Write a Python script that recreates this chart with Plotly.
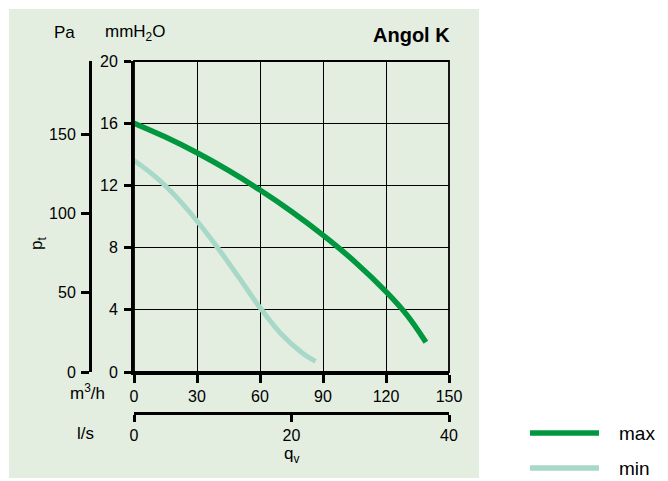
import plotly.graph_objects as go

# ---- data (m3/h vs mmH2O) ----
max_q = [0, 15, 30, 45, 60, 75, 90, 105, 120, 130, 139]
max_p = [16.0, 15.11, 14.10, 12.96, 11.70, 10.32, 8.80, 7.11, 5.17, 3.66, 1.92]
min_q = [0, 10, 20, 30, 40, 50, 60, 70, 80, 86.5]
min_p = [13.6, 12.58, 11.28, 9.71, 7.96, 6.07, 4.14, 2.46, 1.24, 0.68]

x_ticks_m3h = [0, 30, 60, 90, 120, 150]
x_ticks_ls = [0, 20, 40]
y_ticks_mm = [0, 4, 8, 12, 16, 20]
y_ticks_pa = [0, 50, 100, 150]
series_names = ["max", "min"]
series_colors = ["#00973f", "#a8d9c8"]

W, H = 668, 481
def px(x):
    return x / W
def py(y):
    return 1 - y / H

FONT = "Liberation Sans, Arial, sans-serif"
BG = "#e3eee1"

fig = go.Figure()
fig.add_trace(go.Scatter(x=max_q, y=max_p, mode="lines", name=series_names[0],
                         line=dict(color=series_colors[0], width=5.5, shape="spline", smoothing=1),
                         showlegend=False))
fig.add_trace(go.Scatter(x=min_q, y=min_p, mode="lines", name=series_names[1],
                         line=dict(color=series_colors[1], width=5, shape="spline", smoothing=1),
                         showlegend=False))
# dummy trace for secondary axes
fig.add_trace(go.Scatter(x=[None], y=[None], xaxis="x2", yaxis="y2", showlegend=False,
                         hoverinfo="skip"))

xdom = [px(134), px(449)]
ydom = [py(372), py(61)]
tickfont = dict(family=FONT, size=16, color="black")

common = dict(ticks="outside", tickcolor="black", showline=True, linewidth=3,
              linecolor="black", zeroline=False, tickfont=tickfont, automargin=False)

fig.update_layout(
    template="none",
    width=W, height=H, autosize=False,
    margin=dict(l=0, r=0, t=0, b=0, pad=0),
    paper_bgcolor="white", plot_bgcolor="white",
    showlegend=False,
    font=dict(family=FONT, size=16, color="black"),
    xaxis=dict(domain=xdom, range=[0, 150], tickvals=x_ticks_m3h, ticklen=8, tickwidth=3,
               showgrid=True, gridcolor="black", gridwidth=1.3, anchor="y", **common),
    yaxis=dict(domain=ydom, range=[0, 20], tickvals=y_ticks_mm, ticklen=7, tickwidth=3,
               showgrid=True, gridcolor="black", gridwidth=1.3, anchor="x",
               ticklabelstandoff=3, **common),
    yaxis2=dict(domain=ydom, range=[0, 20 * 9.80665], tickvals=y_ticks_pa,
                overlaying="y", anchor="free", position=px(90), side="left",
                ticklen=8, tickwidth=3, showgrid=False, ticklabelstandoff=2, **common),
    xaxis2=dict(domain=xdom, range=[0, 40], tickvals=x_ticks_ls,
                overlaying="x", anchor="free", position=py(413), side="bottom",
                ticklen=7, tickwidth=3, showgrid=False, **common),
)

shapes = [
    dict(type="rect", xref="paper", yref="paper", x0=px(9), x1=px(479), y0=py(478), y1=py(9),
         fillcolor=BG, line=dict(width=0), layer="below"),
    dict(type="rect", xref="paper", yref="paper", x0=xdom[0], x1=xdom[1], y0=ydom[0], y1=ydom[1],
         fillcolor="rgba(0,0,0,0)", line=dict(color="black", width=1.8), layer="above"),
]
legend_y = [433, 468]
for name, col, ly in zip(series_names, series_colors, legend_y):
    shapes.append(dict(type="line", xref="paper", yref="paper", x0=px(530), x1=px(599),
                       y0=py(ly), y1=py(ly), line=dict(color=col, width=5.5)))
fig.update_layout(shapes=shapes)

def ann(text, x, y, size=17, anchor="center", angle=0):
    return dict(text=text, x=px(x), y=py(y), xref="paper", yref="paper", showarrow=False,
                xanchor=anchor, yanchor="middle", textangle=angle,
                font=dict(family=FONT, size=size, color="black"))

annotations = [
    ann("Pa", 64, 33),
    ann("mmH<sub>2</sub>O", 134.5, 33),
    ann("<b>Angol K</b>", 452, 35, size=20, anchor="right"),
    ann("p<sub>t</sub>", 38, 244, angle=-90),
    ann("m<sup>3</sup>/h", 87, 392),
    ann("l/s", 86, 433),
    ann("q<sub>v</sub>", 291, 455),
]
for name, ly in zip(series_names, legend_y):
    annotations.append(ann(name, 617, ly, size=19, anchor="left"))
fig.update_layout(annotations=annotations)

fig.write_html("out.html", config={"displayModeBar": False, "responsive": False},
               post_script="document.body.style.margin='0';document.body.style.overflow='hidden';")
